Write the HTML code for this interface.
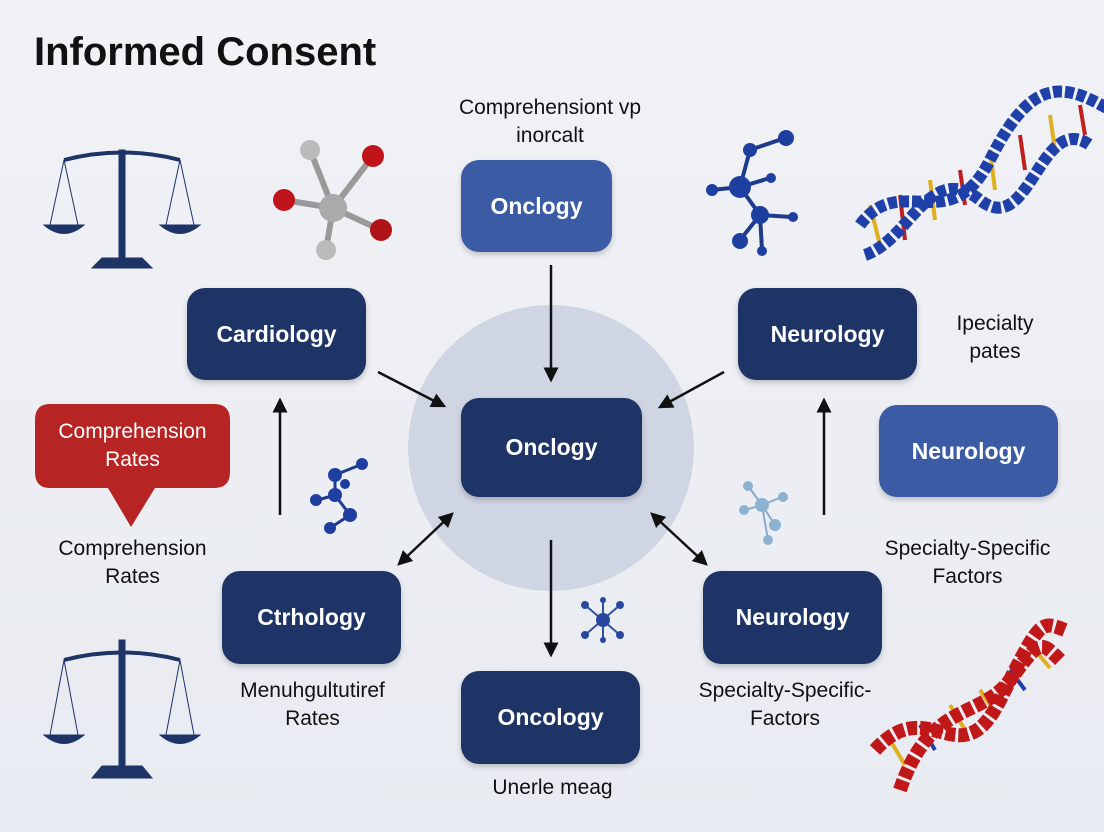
<!DOCTYPE html>
<html><head><meta charset="utf-8"><style>
html,body{margin:0;padding:0}
body{width:1104px;height:832px;position:relative;overflow:hidden;background:linear-gradient(180deg,#f1f2f6,#e8ebf1);font-family:"Liberation Sans",sans-serif}
.b{position:absolute;border-radius:18px;background:#1e3466;color:#fff;font-size:23px;font-weight:bold;display:flex;align-items:center;justify-content:center;box-shadow:0 3px 6px rgba(0,0,0,.2)}
.l{background:#3b5ca5}
.t{position:absolute;color:#111;font-size:21px;text-align:center;line-height:28px}
svg{position:absolute;left:0;top:0}
</style></head><body>
<div style="position:absolute;left:34px;top:30px;font-size:40px;font-weight:bold;color:#111">Informed Consent</div>
<div style="position:absolute;left:408px;top:305px;width:286px;height:286px;border-radius:50%;background:#cfd5e2"></div>
<svg width="1104" height="832">
<defs><marker id="a" markerWidth="6" markerHeight="6" refX="5" refY="3" orient="auto-start-reverse"><path d="M0,0 L6,3 L0,6 z" fill="#111"/></marker></defs>
<g stroke="#111" stroke-width="2.5" fill="none" marker-end="url(#a)">
<line x1="551" y1="265" x2="551" y2="380"/>
<line x1="551" y1="540" x2="551" y2="655"/>
<line x1="378" y1="372" x2="444" y2="406"/>
<line x1="724" y1="372" x2="660" y2="407"/>
<line x1="280" y1="515" x2="280" y2="400"/>
<line x1="824" y1="515" x2="824" y2="400"/>
<line x1="399" y1="564" x2="452" y2="514" marker-start="url(#a)"/>
<line x1="706" y1="564" x2="652" y2="514" marker-start="url(#a)"/>
</g>
<path d="M50,404 H214 Q230,404 230,420 V472 Q230,488 214,488 H155 L131,527 L108,488 H50 Q35,488 35,472 V420 Q35,404 50,404Z" fill="#b72424"/>
<g fill="#1e3466" stroke="#1e3466">
<g transform="translate(122,150)"><rect x="-3" y="0" width="6" height="115"/><path d="M-58,10 Q0,-5 58,10" stroke-width="4" fill="none"/><path d="M-30,118 H30 L20,108 H-20Z"/><g stroke-width="1"><line x1="-58" y1="10" x2="-72" y2="75"/><line x1="-58" y1="10" x2="-44" y2="75"/><line x1="58" y1="10" x2="44" y2="75"/><line x1="58" y1="10" x2="72" y2="75"/></g><path d="M-78,75 H-38 Q-58,92 -78,75Z"/><path d="M38,75 H78 Q58,92 38,75Z"/></g>
<g transform="translate(122,640)"><rect x="-3" y="0" width="6" height="135"/><path d="M-58,20 Q0,5 58,20" stroke-width="4" fill="none"/><path d="M-30,138 H30 L20,126 H-20Z"/><g stroke-width="1"><line x1="-58" y1="20" x2="-72" y2="95"/><line x1="-58" y1="20" x2="-44" y2="95"/><line x1="58" y1="20" x2="44" y2="95"/><line x1="58" y1="20" x2="72" y2="95"/></g><path d="M-78,95 H-38 Q-58,112 -78,95Z"/><path d="M38,95 H78 Q58,112 38,95Z"/></g>
</g>
<g stroke="#999" stroke-width="6"><line x1="333" y1="208" x2="310" y2="150"/><line x1="333" y1="208" x2="373" y2="156"/><line x1="333" y1="208" x2="284" y2="200"/><line x1="333" y1="208" x2="381" y2="230"/><line x1="333" y1="208" x2="326" y2="250"/></g>
<circle cx="333" cy="208" r="14" fill="#aaa"/><circle cx="310" cy="150" r="10" fill="#bbb"/><circle cx="373" cy="156" r="11" fill="#c0141a"/><circle cx="284" cy="200" r="11" fill="#c0141a"/><circle cx="381" cy="230" r="11" fill="#b01418"/><circle cx="326" cy="250" r="10" fill="#bbb"/>
<g stroke="#1e3a8a" stroke-width="4"><line x1="740" y1="187" x2="750" y2="150"/><line x1="750" y1="150" x2="785" y2="138"/><line x1="740" y1="187" x2="712" y2="190"/><line x1="740" y1="187" x2="760" y2="215"/><line x1="760" y1="215" x2="740" y2="240"/><line x1="760" y1="215" x2="792" y2="217"/><line x1="760" y1="215" x2="762" y2="250"/><line x1="740" y1="187" x2="770" y2="178"/></g>
<g fill="#1e3fa0"><circle cx="740" cy="187" r="11"/><circle cx="750" cy="150" r="7"/><circle cx="786" cy="138" r="8"/><circle cx="712" cy="190" r="6"/><circle cx="760" cy="215" r="9"/><circle cx="740" cy="241" r="8"/><circle cx="793" cy="217" r="5"/><circle cx="762" cy="251" r="5"/><circle cx="771" cy="178" r="5"/></g>
<g stroke="#1e3a8a" stroke-width="3"><line x1="335" y1="475" x2="360" y2="465"/><line x1="335" y1="475" x2="335" y2="495"/><line x1="335" y1="495" x2="318" y2="500"/><line x1="335" y1="495" x2="350" y2="515"/><line x1="350" y1="515" x2="330" y2="528"/></g>
<g fill="#1e3fa0"><circle cx="335" cy="475" r="7"/><circle cx="362" cy="464" r="6"/><circle cx="335" cy="495" r="7"/><circle cx="316" cy="500" r="6"/><circle cx="350" cy="515" r="7"/><circle cx="330" cy="528" r="6"/><circle cx="345" cy="484" r="5"/></g>
<g stroke="#88aac8" stroke-width="2"><line x1="762" y1="505" x2="748" y2="486"/><line x1="762" y1="505" x2="782" y2="497"/><line x1="762" y1="505" x2="745" y2="510"/><line x1="762" y1="505" x2="775" y2="525"/><line x1="762" y1="505" x2="768" y2="540"/></g>
<g fill="#8cb2d2"><circle cx="762" cy="505" r="7"/><circle cx="748" cy="486" r="5"/><circle cx="783" cy="497" r="5"/><circle cx="744" cy="510" r="5"/><circle cx="775" cy="525" r="6"/><circle cx="768" cy="540" r="5"/></g>
<g stroke="#3050a0" stroke-width="2"><line x1="585" y1="605" x2="620" y2="635"/><line x1="620" y1="605" x2="585" y2="635"/><line x1="603" y1="600" x2="603" y2="640"/></g>
<g fill="#2848a0"><circle cx="603" cy="620" r="7"/><circle cx="585" cy="605" r="4"/><circle cx="620" cy="605" r="4"/><circle cx="585" cy="635" r="4"/><circle cx="620" cy="635" r="4"/><circle cx="603" cy="600" r="3"/><circle cx="603" cy="640" r="3"/></g>
<g stroke-width="4">
<line x1="870" y1="205" x2="880" y2="245" stroke="#e0b020"/><line x1="900" y1="195" x2="905" y2="240" stroke="#c02020"/><line x1="930" y1="180" x2="935" y2="220" stroke="#e0b020"/><line x1="960" y1="170" x2="965" y2="205" stroke="#c02020"/><line x1="990" y1="150" x2="995" y2="190" stroke="#e0b020"/><line x1="1020" y1="135" x2="1025" y2="170" stroke="#c02020"/><line x1="1050" y1="115" x2="1055" y2="150" stroke="#e0b020"/><line x1="1080" y1="105" x2="1085" y2="135" stroke="#c02020"/></g>
<path d="M860,225 C900,170 950,240 990,160 S1060,80 1110,110" stroke="#1f40a8" stroke-width="12" fill="none" stroke-dasharray="9 3"/>
<path d="M865,255 C910,240 930,160 980,200 S1040,110 1090,145" stroke="#1f40a8" stroke-width="12" fill="none" stroke-dasharray="9 3"/>
<g stroke-width="4"><line x1="890" y1="740" x2="905" y2="765" stroke="#e0b020"/><line x1="920" y1="725" x2="935" y2="750" stroke="#1f40a8"/><line x1="950" y1="705" x2="965" y2="730" stroke="#e0b020"/><line x1="980" y1="690" x2="995" y2="712" stroke="#e0b020"/><line x1="1010" y1="670" x2="1025" y2="690" stroke="#1f40a8"/><line x1="1035" y1="650" x2="1050" y2="668" stroke="#e0b020"/></g>
<path d="M875,750 C930,690 960,780 1000,700 S1040,620 1065,630" stroke="#c01818" stroke-width="14" fill="none" stroke-dasharray="10 3"/>
<path d="M900,790 C930,700 980,720 1010,680 S1040,640 1060,660" stroke="#c01818" stroke-width="14" fill="none" stroke-dasharray="10 3"/>
</svg>
<div class="b l" style="left:461px;top:160px;width:151px;height:92px">Onclogy</div>
<div class="b" style="left:187px;top:288px;width:179px;height:92px">Cardiology</div>
<div class="b" style="left:738px;top:288px;width:179px;height:92px">Neurology</div>
<div class="b" style="left:461px;top:398px;width:181px;height:99px">Onclogy</div>
<div class="b l" style="left:879px;top:405px;width:179px;height:92px">Neurology</div>
<div class="b" style="left:222px;top:571px;width:179px;height:93px">Ctrhology</div>
<div class="b" style="left:703px;top:571px;width:179px;height:93px">Neurology</div>
<div class="b" style="left:461px;top:671px;width:179px;height:93px">Oncology</div>
<div class="t" style="left:35px;top:418px;width:195px;color:#fff;font-size:21px">Comprehension<br>Rates</div>
<div class="t" style="left:400px;top:94px;width:300px">Comprehensiont vp<br>inorcalt</div>
<div class="t" style="left:920px;top:310px;width:150px">Ipecialty<br>pates</div>
<div class="t" style="left:20px;top:535px;width:225px">Comprehension<br>Rates</div>
<div class="t" style="left:850px;top:535px;width:235px">Specialty-Specific<br>Factors</div>
<div class="t" style="left:200px;top:677px;width:225px">Menuhgultutiref<br>Rates</div>
<div class="t" style="left:660px;top:677px;width:250px">Specialty-Specific-<br>Factors</div>
<div class="t" style="left:430px;top:774px;width:245px">Unerle meag</div>
</body></html>
